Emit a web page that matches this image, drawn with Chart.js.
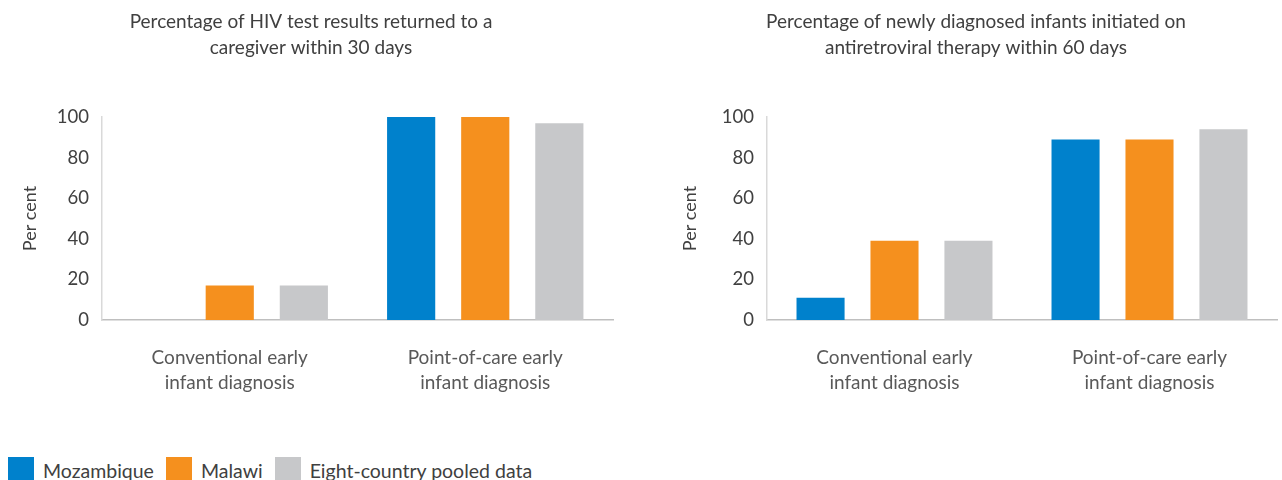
<!DOCTYPE html>
<html>
<head>
<meta charset="utf-8">
<script src="https://cdn.jsdelivr.net/npm/chart.js@4.4.0/dist/chart.umd.min.js"></script>
<style>
    body { margin: 0; background: #fff; font-family: Lato, "Noto Sans", sans-serif; }
    #wrap { position: relative; width: 1282px; height: 480px; overflow: hidden; }
    .box { position: absolute; top: 0; height: 420px; }
    #legend { position: absolute; left: 8px; top: 457px; display: flex; align-items: flex-start; }
    #legend .item { display: flex; align-items: flex-start; margin-right: 12px; }
    #legend .sw { width: 26px; height: 26px; margin-right: 9px; }
    #legend .txt { font-size: 19.5px; color: #404040; line-height: 28px; }
</style>
</head>
<body>
<div id="wrap">
    <div class="box" style="left:0; width:640px;"><canvas id="chartReturn"></canvas></div>
    <div class="box" style="left:640px; width:642px;"><canvas id="chartArt"></canvas></div>
    <div id="legend"></div>
</div>
<script>
// 데이터
const categories = [["Conventional early", "infant diagnosis"], ["Point-of-care early", "infant diagnosis"]];
const seriesNames = ["Mozambique", "Malawi", "Eight-country pooled data"];
const seriesColors = ["#0081CC", "#F5901E", "#C7C8CA"];

// 30일 이내 결과 전달 비율
const returnMozambique = [0, 100];
const returnMalawi = [17, 100];
const returnPooled = [17, 97];

// 60일 이내 ART 시작 비율
const artMozambique = [11, 89];
const artMalawi = [39, 89];
const artPooled = [39, 94];

const yTicks = [0, 20, 40, 60, 80, 100];

function makeDatasets(values) {
    return values.map(function (v, i) {
        return {
            label: seriesNames[i],
            data: v,
            backgroundColor: seriesColors[i],
            borderWidth: 0,
            categoryPercentage: 0.87,
            barPercentage: 0.65
        };
    });
}

// pad: 캔버스 여백(제목 위치), yWidth: y축 폭
function makeChart(id, title, values, pad, yWidth, yTitlePad) {
    const ctx = document.getElementById(id).getContext('2d');
    return new Chart(ctx, {
        type: 'bar',
        data: { labels: categories, datasets: makeDatasets(values) },
        options: {
            responsive: true,
            maintainAspectRatio: false,
            animation: false,
            layout: { padding: { left: pad[0], right: pad[1], top: 0, bottom: 0 } },
            plugins: {
                legend: { display: false },
                tooltip: { enabled: false },
                title: {
                    display: true,
                    text: title,
                    color: '#404040',
                    font: { family: 'Lato', size: 19, weight: 'normal', lineHeight: 1.37 },
                    padding: { top: 9, bottom: 56 }
                }
            },
            scales: {
                x: {
                    grid: { display: false, drawTicks: false },
                    border: { display: true, color: '#BFBFBF', width: 1.5 },
                    ticks: {
                        color: '#595959',
                        padding: 25,
                        font: { family: 'Lato', size: 19, lineHeight: 1.32 },
                        maxRotation: 0
                    },
                    afterFit: function (scale) { scale.height = 100; }
                },
                y: {
                    min: 0,
                    max: 100,
                    afterBuildTicks: function (scale) {
                        scale.ticks = yTicks.map(function (v) { return { value: v }; });
                    },
                    grid: { display: false, drawTicks: false },
                    border: { display: true, color: '#D9D9D9', width: 1.5 },
                    ticks: {
                        color: '#404040',
                        padding: 13,
                        font: { family: 'Lato', size: 18.5 }
                    },
                    title: {
                        display: true,
                        text: 'Per cent',
                        color: '#404040',
                        font: { family: 'Lato', size: 18 },
                        padding: { top: yTitlePad, bottom: 0 }
                    },
                    afterFit: function (scale) { scale.width = yWidth; }
                }
            }
        }
    });
}

makeChart('chartReturn',
    ["Percentage of HIV test results returned to a", "caregiver within 30 days"],
    [returnMozambique, returnMalawi, returnPooled], [9, 27], 93, 10);

makeChart('chartArt',
    ["Percentage of newly diagnosed infants initiated on", "antiretroviral therapy within 60 days"],
    [artMozambique, artMalawi, artPooled], [35, 5], 92, 4);

// 범례
const legend = document.getElementById('legend');
seriesNames.forEach(function (name, i) {
    const item = document.createElement('div');
    item.className = 'item';
    item.innerHTML = '<div class="sw" style="background:' + seriesColors[i] + '"></div><div class="txt">' + name + '</div>';
    legend.appendChild(item);
});
</script>
</body>
</html>
